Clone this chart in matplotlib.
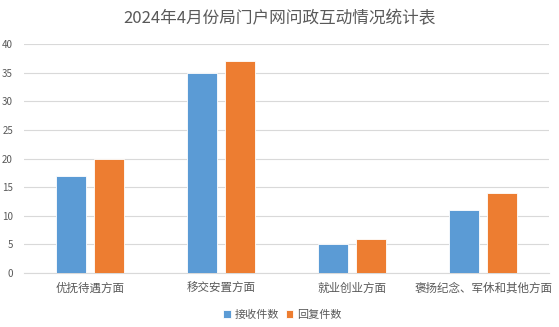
import numpy as np
import matplotlib
matplotlib.use("Agg")
import matplotlib.pyplot as plt

plt.rcParams['font.family'] = ['Noto Sans CJK SC', 'DejaVu Sans']

categories = ["优抚待遇方面", "移交安置方面", "就业创业方面", "褒扬纪念、军休和其他方面"]
received = [17, 35, 5, 11]
replied = [20, 37, 6, 14]
series_names = ["接收件数", "回复件数"]

text_color = "#595959"

fig = plt.figure(figsize=(5.59, 3.27), dpi=100)
ax = fig.add_axes([0.043, 0.165, 0.939, 0.70])

x = np.arange(len(categories))
w = 0.23
ax.bar(x - 0.145, received, w, color="#5B9BD5", edgecolor="white", linewidth=0.6, label=series_names[0], zorder=3)
ax.bar(x + 0.145, replied, w, color="#ED7D31", edgecolor="white", linewidth=0.6, label=series_names[1], zorder=3)

ax.set_xlim(-0.5, len(categories) - 0.5)
ax.set_ylim(0, 40)
ax.set_yticks(range(0, 41, 5))
ax.set_xticks(x)
ax.set_xticklabels(categories, fontsize=8.3, color=text_color)
ax.tick_params(axis="y", labelsize=7, colors=text_color, length=0, pad=8)
ax.tick_params(axis="x", length=0, pad=6)
ax.grid(axis="y", color="#D9D9D9", linewidth=0.8, zorder=0)
for s in ["top", "right", "left"]:
    ax.spines[s].set_visible(False)
ax.spines["bottom"].set_color("#D9D9D9")

fig.suptitle("2024年4月份局门户网问政互动情况统计表", y=0.97, fontsize=12, color=text_color)
fig.legend(loc="lower center", bbox_to_anchor=(0.505, -0.01), ncol=2, frameon=False,
           fontsize=8, labelcolor=text_color, handlelength=0.7, handleheight=0.7,
           handletextpad=0.3, columnspacing=0.6)

fig.savefig("out.png", dpi=100)
